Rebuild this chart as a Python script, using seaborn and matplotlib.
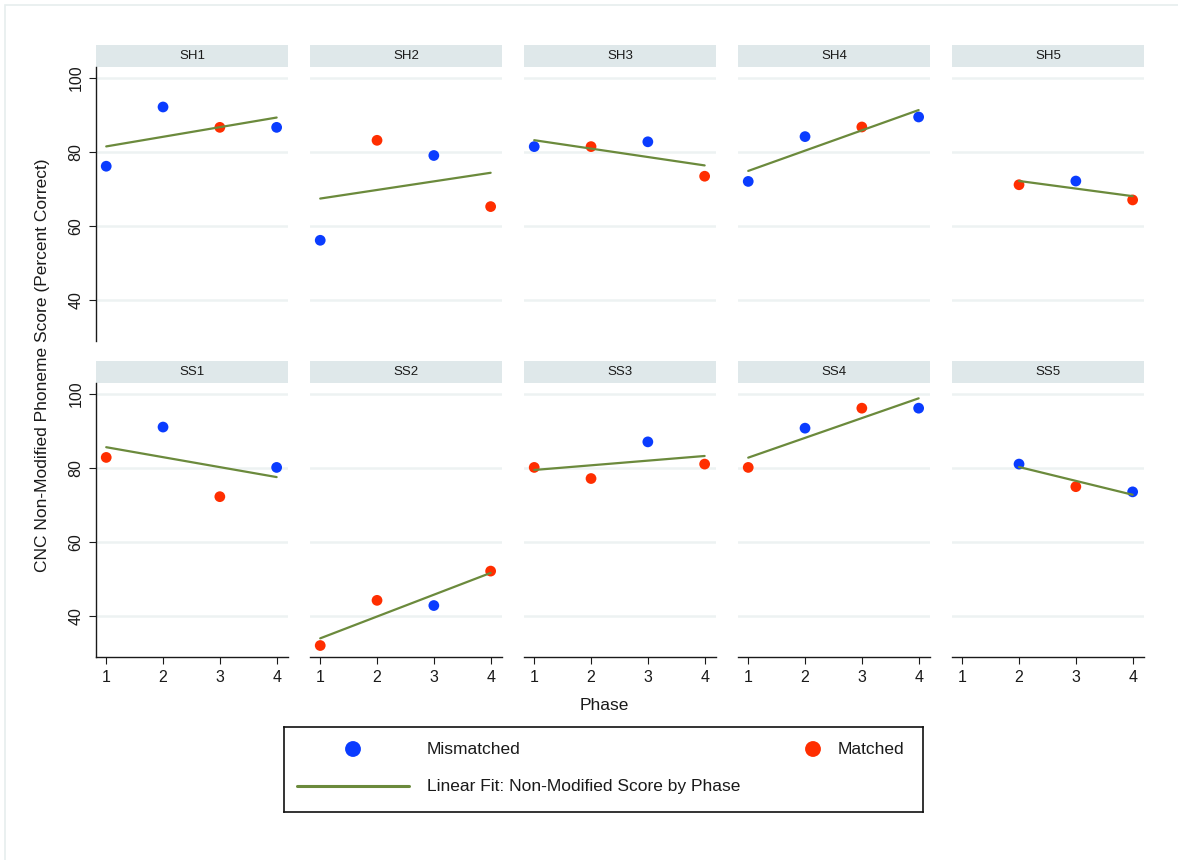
import matplotlib
matplotlib.use("Agg")
import matplotlib.pyplot as plt
from matplotlib.patches import Rectangle
import seaborn as sns
import pandas as pd

# data
panels = ["SH1", "SH2", "SH3", "SH4", "SH5", "SS1", "SS2", "SS3", "SS4", "SS5"]
subject = (["SH1"] * 4 + ["SH2"] * 4 + ["SH3"] * 4 + ["SH4"] * 4 + ["SH5"] * 3
           + ["SS1"] * 4 + ["SS2"] * 4 + ["SS3"] * 4 + ["SS4"] * 4 + ["SS5"] * 3)
phase = [1, 2, 3, 4, 1, 2, 3, 4, 1, 2, 3, 4, 1, 2, 3, 4, 2, 3, 4,
         1, 2, 3, 4, 1, 2, 3, 4, 1, 2, 3, 4, 1, 2, 3, 4, 2, 3, 4]
score = [76.2, 92.2, 86.7, 86.7,
         56.2, 83.2, 79.1, 65.3,
         81.5, 81.5, 82.8, 73.5,
         72.1, 84.2, 86.8, 89.5,
         71.2, 72.2, 67.1,
         82.9, 91.1, 72.3, 80.2,
         32.1, 44.3, 42.9, 52.2,
         80.2, 77.2, 87.1, 81.1,
         80.2, 90.8, 96.2, 96.2,
         81.1, 75.0, 73.6]
condition = ["Mismatched", "Mismatched", "Matched", "Mismatched",
             "Mismatched", "Matched", "Mismatched", "Matched",
             "Mismatched", "Matched", "Mismatched", "Matched",
             "Mismatched", "Mismatched", "Matched", "Mismatched",
             "Matched", "Mismatched", "Matched",
             "Matched", "Mismatched", "Matched", "Mismatched",
             "Matched", "Matched", "Mismatched", "Matched",
             "Matched", "Matched", "Mismatched", "Matched",
             "Matched", "Mismatched", "Matched", "Mismatched",
             "Mismatched", "Matched", "Mismatched"]
y_ticks = [40, 60, 80, 100]
x_ticks = [1, 2, 3, 4]

df = pd.DataFrame({"subject": subject, "phase": phase,
                   "score": score, "condition": condition})

BLUE = "#0a3cff"
RED = "#ff2e00"
GREEN = "#6b8a3c"
STRIP = "#dfe8ea"
GRID = "#edf2f2"
palette = {"Mismatched": BLUE, "Matched": RED}

sns.set_theme(style="white")
plt.rcParams["font.family"] = ["Liberation Sans", "DejaVu Sans"]

W, H = 1178, 860
fig, axes = plt.subplots(2, 5, figsize=(W / 100, H / 100), dpi=100)
fig.subplots_adjust(left=96 / W, right=1144 / W, top=1 - 67 / H,
                    bottom=1 - 657 / H, wspace=22 / 192, hspace=42 / 274)

# faint outer frame of the graph region
fig.patches.append(Rectangle((5 / W, -0.05), 1.2, 1.05 - 5 / H, transform=fig.transFigure,
                             fill=False, ec="#e6eeee", lw=1.2, zorder=0))

for i, name in enumerate(panels):
    row, col = divmod(i, 5)
    ax = axes[row, col]
    sub = df[df["subject"] == name]
    sns.scatterplot(data=sub, x="phase", y="score", hue="condition", palette=palette,
                    s=60, edgecolor="none", legend=False, ax=ax, zorder=3)
    sns.regplot(data=sub, x="phase", y="score", scatter=False, ci=None, truncate=True,
                color=GREEN, line_kws={"lw": 1.6, "zorder": 4}, ax=ax)
    ax.set_xlim(0.82, 4.2)
    ax.set_ylim(29, 103)
    ax.set_xticks(x_ticks)
    ax.set_yticks(y_ticks)
    ax.set_xlabel("")
    ax.set_ylabel("")
    ax.yaxis.grid(True, color=GRID, lw=1.8)
    ax.set_axisbelow(True)
    for side in ["top", "right", "left", "bottom"]:
        ax.spines[side].set_visible(False)
    if col == 0:
        ax.spines["left"].set_visible(True)
    if row == 1:
        ax.spines["bottom"].set_visible(True)
    for side in ["left", "bottom"]:
        ax.spines[side].set_color("#1a1a1a")
        ax.spines[side].set_linewidth(1.0)
    ax.tick_params(axis="y", left=(col == 0), labelleft=(col == 0), length=5, width=0.8,
                   color="#1a1a1a", labelsize=11.5, pad=4, labelcolor="#1a1a1a")
    ax.tick_params(axis="x", bottom=(row == 1), labelbottom=(row == 1), length=5, width=0.8,
                   color="#1a1a1a", labelsize=11.5, pad=4, labelcolor="#1a1a1a")
    for lab in ax.get_yticklabels():
        lab.set_rotation(90)
        lab.set_va("center")
    # strip title
    ax.add_patch(Rectangle((0, 1), 1, 22 / 274, transform=ax.transAxes,
                           clip_on=False, fc=STRIP, ec="none"))
    ax.text(0.5, 1 + 11 / 274, name, transform=ax.transAxes, ha="center", va="center",
            fontsize=9.5, color="#1a1a1a")

fig.text(43 / W, 1 - 365 / H, "CNC Non-Modified Phoneme Score (Percent Correct)",
         rotation=90, ha="center", va="center", fontsize=12.5, color="#1a1a1a")
fig.text(604 / W, 1 - 706 / H, "Phase", ha="center", va="center",
         fontsize=12.5, color="#1a1a1a")

# legend box drawn in its own axes, pixel units
lx0, lx1, ly0, ly1 = 284, 923, 727, 812
lax = fig.add_axes([lx0 / W, 1 - ly1 / H, (lx1 - lx0) / W, (ly1 - ly0) / H])
lax.set_xlim(lx0, lx1)
lax.set_ylim(ly1, ly0)
lax.set_xticks([])
lax.set_yticks([])
for sp in lax.spines.values():
    sp.set_visible(True)
    sp.set_color("#111111")
    sp.set_linewidth(1.2)
lax.scatter([353], [749], s=130, color=BLUE, edgecolor="none")
lax.scatter([813], [749], s=130, color=RED, edgecolor="none")
lax.plot([297, 409], [785.5, 785.5], color=GREEN, lw=2.2)
lax.text(427, 749, "Mismatched", va="center", ha="left", fontsize=12.5, color="#1a1a1a")
lax.text(838, 749, "Matched", va="center", ha="left", fontsize=12.5, color="#1a1a1a")
lax.text(427, 786, "Linear Fit: Non-Modified Score by Phase", va="center", ha="left",
         fontsize=12.5, color="#1a1a1a")

fig.savefig("out.png", dpi=100, facecolor="white")
